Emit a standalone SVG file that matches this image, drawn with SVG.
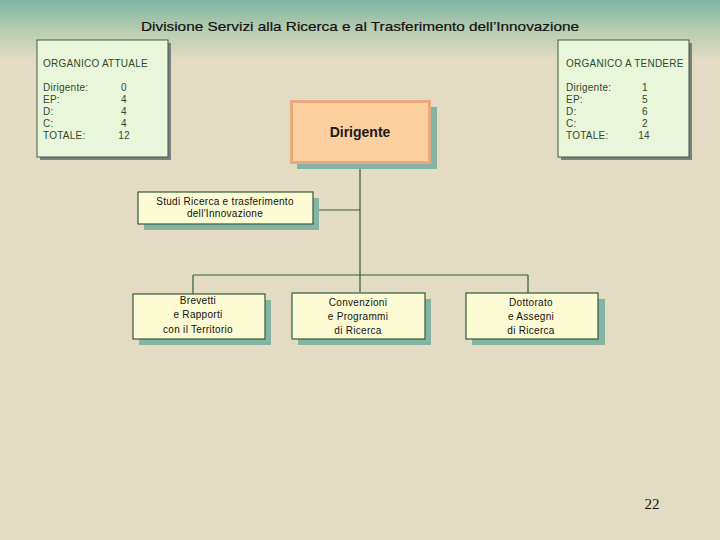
<svg xmlns="http://www.w3.org/2000/svg" width="720" height="540" viewBox="0 0 720 540">
<defs>
<linearGradient id="bg" x1="0" y1="0" x2="0" y2="1">
<stop offset="0" stop-color="#7bb7a4"/>
<stop offset="0.5" stop-color="#b8ccb0"/>
<stop offset="1" stop-color="#e3dcc3"/>
</linearGradient>
<style>
.sum{fill:#eaf6d9;stroke:#3c5a40;stroke-width:1}
.shg{fill:#7f7f7f}
.sht{fill:#86b4a2}
.unit{fill:#fcfbd3;stroke:#2f5a3c;stroke-width:1.2}
.t{font-family:"Liberation Sans",Arial,sans-serif;font-size:10px;fill:#2c4a30;letter-spacing:0.25px}
.u{font-family:"Liberation Sans",Arial,sans-serif;font-size:10px;fill:#111;text-anchor:middle;letter-spacing:0.3px}
.ln{stroke:#2f5a3c;stroke-width:1.2;fill:none}
</style>
</defs>
<rect width="720" height="540" fill="#e3dcc3"/>
<rect width="720" height="60" fill="url(#bg)"/>
<text x="360" y="31" text-anchor="middle" font-family="'Liberation Sans',Arial,sans-serif" font-size="13.5" fill="#111" stroke="#111" stroke-width="0.2" textLength="438" lengthAdjust="spacingAndGlyphs">Divisione Servizi  alla Ricerca e  al Trasferimento dell’Innovazione</text>

<g id="organico-attuale">
<rect class="shg" x="40" y="43" width="131" height="117"/>
<rect class="sum" x="37" y="40" width="131" height="117"/>
<text class="t" x="43" y="67">ORGANICO ATTUALE</text>
<text class="t" x="43" y="91">Dirigente:</text>
<text class="t" x="43" y="103">EP:</text>
<text class="t" x="43" y="115">D:</text>
<text class="t" x="43" y="127">C:</text>
<text class="t" x="43" y="139">TOTALE:</text>
<g text-anchor="middle">
<text class="t" x="124" y="91">0</text>
<text class="t" x="124" y="103">4</text>
<text class="t" x="124" y="115">4</text>
<text class="t" x="124" y="127">4</text>
<text class="t" x="124" y="139">12</text>
</g>
</g>

<g id="organico-a-tendere">
<rect class="shg" x="561" y="43" width="131" height="117"/>
<rect class="sum" x="558" y="40" width="131" height="117"/>
<text class="t" x="566" y="67">ORGANICO A TENDERE</text>
<text class="t" x="566" y="91">Dirigente:</text>
<text class="t" x="566" y="103">EP:</text>
<text class="t" x="566" y="115">D:</text>
<text class="t" x="566" y="127">C:</text>
<text class="t" x="566" y="139">TOTALE:</text>
<g text-anchor="middle">
<text class="t" x="645" y="91">1</text>
<text class="t" x="645" y="103">5</text>
<text class="t" x="645" y="115">6</text>
<text class="t" x="645" y="127">2</text>
<text class="t" x="644" y="139">14</text>
</g>
</g>

<g id="connectors">
<path class="ln" d="M360 164 V292 M313 210 H360 M193 275 H528 M193 275 V295 M528 275 V293"/>
</g>

<g id="dirigente">
<rect class="sht" x="297" y="107" width="140" height="62"/>
<rect x="291.5" y="101.5" width="138" height="61" fill="#fdcf9f" stroke="#e8a97c" stroke-width="3"/>
<text x="360" y="137" text-anchor="middle" font-family="'Liberation Sans',Arial,sans-serif" font-size="14" font-weight="bold" fill="#1a1a1a">Dirigente</text>
</g>

<g id="studi">
<rect class="sht" x="144" y="198" width="175" height="32"/>
<rect class="unit" x="138" y="192" width="175" height="32"/>
<text class="u" x="225" y="205">Studi  Ricerca e trasferimento</text>
<text class="u" x="225" y="217">dell'Innovazione</text>
</g>

<g id="brevetti">
<rect class="sht" x="139" y="300" width="132" height="45"/>
<rect class="unit" x="133" y="294" width="132" height="45"/>
<text class="u" x="198" y="304">Brevetti</text>
<text class="u" x="198" y="318">e Rapporti</text>
<text class="u" x="198" y="333">con il Territorio</text>
</g>

<g id="convenzioni">
<rect class="sht" x="298" y="299" width="133" height="46"/>
<rect class="unit" x="292" y="293" width="133" height="46"/>
<text class="u" x="358" y="306">Convenzioni</text>
<text class="u" x="358" y="320">e Programmi</text>
<text class="u" x="358" y="334">di Ricerca</text>
</g>

<g id="dottorato">
<rect class="sht" x="472" y="299" width="133" height="46"/>
<rect class="unit" x="466" y="293" width="132" height="46"/>
<text class="u" x="531" y="306">Dottorato</text>
<text class="u" x="531" y="320">e Assegni</text>
<text class="u" x="531" y="334">di Ricerca</text>
</g>

<text x="652" y="509" text-anchor="middle" font-family="'Liberation Serif','Times New Roman',serif" font-size="15" fill="#111">22</text>
</svg>
